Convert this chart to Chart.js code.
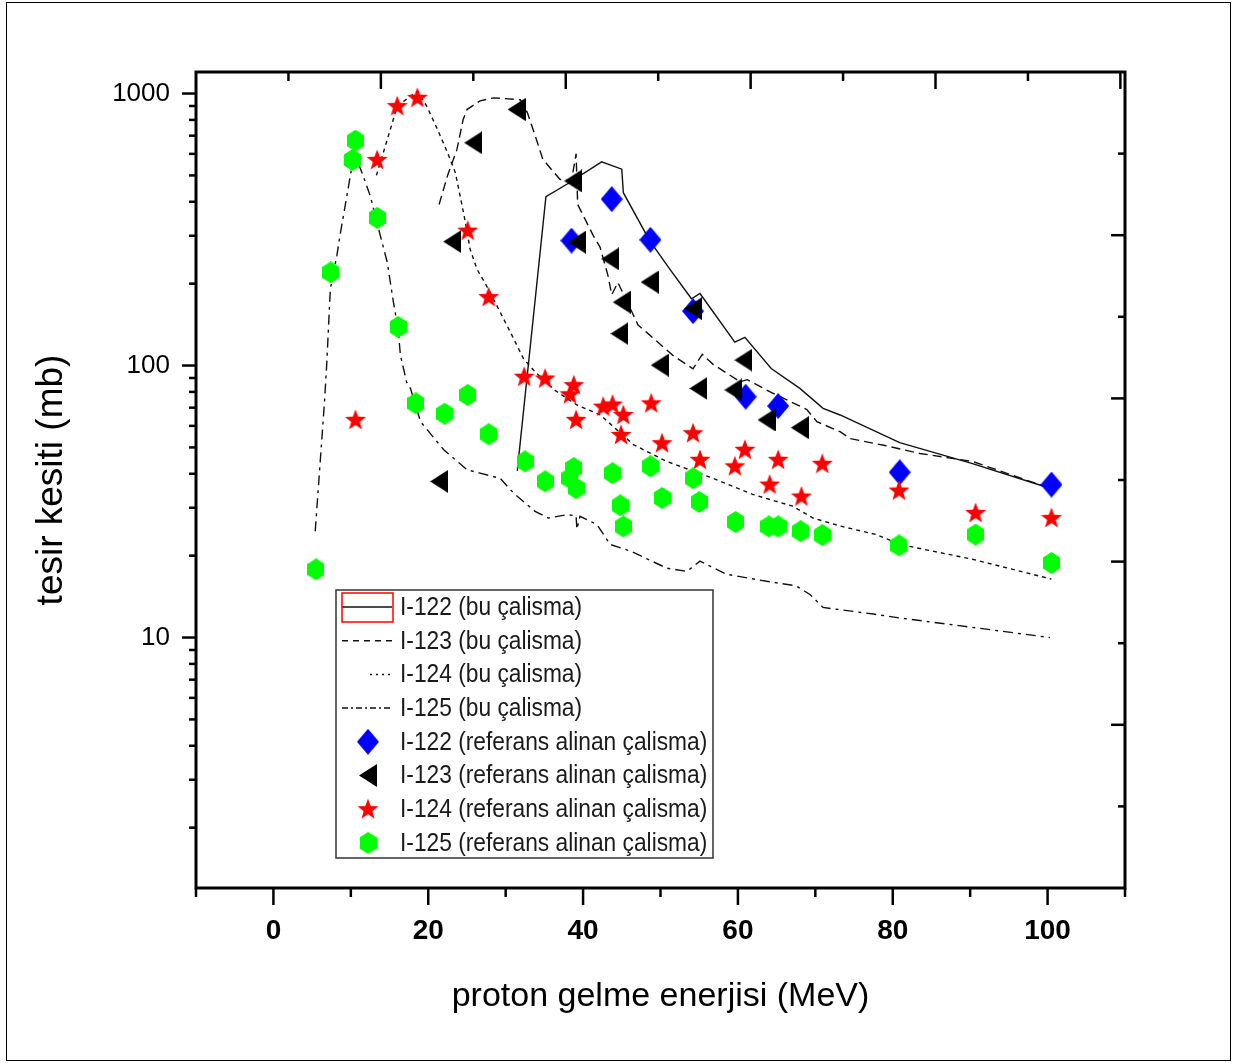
<!DOCTYPE html>
<html>
<head>
<meta charset="utf-8">
<script src="https://cdn.jsdelivr.net/npm/chart.js@4.4.1/dist/chart.umd.min.js"></script>
<style>
  html, body { margin: 0; padding: 0; background: #fff; }
  #wrap { position: relative; width: 1233px; height: 1063px; }
  #grafik { position: absolute; left: 0; top: 0; }
  #cerceve { position: absolute; left: 6px; top: 2px; width: 1225px; height: 1059px;
             border: 1px solid #000; box-sizing: border-box; pointer-events: none; }
</style>
</head>
<body>
<div id="wrap">
  <canvas id="grafik" width="1233" height="1063"></canvas>
  <div id="cerceve"></div>
</div>
<script>
// --- hesaplanan tesir kesitleri (bu çalisma), enerji MeV / kesit mb ---
const e122 = [31.5, 35.2, 37.9, 42.4, 45.0, 45.2, 48.6, 51.2, 54.0, 55.1, 59.6, 60.9, 64.3, 68.0, 71.0, 73.2, 80.9, 90.3, 100.3];
const s122 = [41, 418, 464, 561, 527, 432, 288, 226, 176, 184, 122, 127, 97.5, 82.4, 69.6, 65.8, 52.1, 43.6, 35.4];

const e123 = [21.4, 22.5, 23.7, 24.5, 25.0, 26.7, 28.4, 31.9, 32.8, 34.1, 34.8, 37.0, 38.5, 39.1, 39.3, 41.3, 42.2, 43.2, 43.7, 44.5, 47.1, 48.4, 51.6, 54.2, 55.4, 56.8, 60.3, 61.2, 64.1, 68.9, 70.2, 73.2, 74.5, 79.0, 83.5, 90.3, 100.3];
const s123 = [391, 500, 622, 801, 873, 940, 964, 949, 851, 661, 573, 484, 477, 601, 391, 301, 272, 215, 182, 202, 141, 131, 109, 97.3, 110, 101, 87.1, 88.7, 80.2, 68.9, 62.2, 57.1, 53.9, 50.8, 47.5, 44.4, 35.4];

const e124 = [13.3, 14.7, 16.0, 18.6, 19.8, 21.1, 22.4, 23.5, 24.2, 24.8, 25.4, 26.3, 27.5, 29.3, 31.0, 32.3, 33.8, 36.3, 39.2, 42.2, 46.5, 50.8, 56.8, 61.9, 67.1, 69.7, 73.2, 77.9, 80.9, 90.3, 100.5];
const s124 = [500, 676, 899, 1021, 899, 748, 615, 512, 409, 336, 268, 226, 197, 157, 126, 106, 94.8, 81.3, 71.6, 65.9, 51.2, 44.4, 38.5, 33.6, 30.4, 27.5, 25.7, 23.9, 22.0, 19.4, 16.4];

const e125 = [5.4, 6.6, 6.9, 7.35, 8.2, 8.6, 9.5, 10.0, 10.5, 11.6, 12.5, 13.8, 14.7, 15.5, 16.1, 16.4, 17.2, 17.7, 19.0, 22.0, 25.0, 26.7, 29.3, 31.0, 33.8, 35.5, 38.0, 39.1, 39.2, 39.6, 41.8, 43.5, 46.1, 50.8, 53.4, 55.1, 58.5, 63.7, 67.5, 69.3, 71.0, 77.5, 80.9, 90.3, 100.3];
const s125 = [24.6, 73.6, 103, 191, 254, 301, 422, 512, 600, 498, 421, 301, 240, 171, 137, 109.5, 87, 82.4, 62.2, 49, 41.4, 40.2, 38.5, 34.0, 29.1, 27.5, 28.3, 28.0, 25.0, 27.9, 26.0, 22.0, 20.8, 18.0, 17.5, 19.1, 17.1, 16.1, 15.5, 14.4, 12.9, 12.2, 11.8, 10.9, 10.0];

// --- referans alinan çalisma ölçümleri ---
const r122E = [38.5, 43.7, 48.7, 54.2, 61.0, 65.2, 80.9, 100.5];
const r122S = [288, 409, 290, 158.5, 76.8, 71.0, 40.5, 36.5];

const r123E = [21.4, 23.1, 25.8, 31.4, 38.7, 39.2, 43.5, 48.6, 45.0, 44.7, 54.2, 49.9, 60.7, 54.9, 59.4, 63.7, 68.0];
const r123S = [37.5, 285.6, 659, 874, 477, 284, 246.6, 202.7, 171, 131, 161.8, 100.3, 104.7, 82.4, 81.3, 63.1, 59.1];

const r124E = [10.6, 13.4, 16.0, 18.6, 25.1, 27.8, 32.4, 35.1, 38.8, 38.3, 39.1, 42.6, 43.8, 45.2, 44.9, 48.8, 50.2, 54.2, 55.1, 59.6, 60.9, 64.1, 65.2, 68.2, 70.9, 80.8, 90.7, 100.5];
const r124S = [63.1, 570, 899, 964, 313, 178.5, 90.9, 89.6, 84.7, 78.4, 63.1, 70.6, 71.9, 65.8, 55.6, 72.6, 51.8, 56.4, 45.0, 42.6, 49.0, 36.5, 45.0, 33.0, 43.5, 34.7, 28.7, 27.5];

const r125E = [5.5, 7.4, 10.2, 10.6, 13.4, 16.1, 18.4, 22.1, 25.1, 27.8, 32.5, 35.1, 38.8, 38.3, 39.1, 43.8, 44.8, 45.2, 48.7, 50.2, 54.2, 55.0, 59.7, 64.0, 65.2, 68.1, 70.9, 80.8, 90.7, 100.5];
const r125S = [17.8, 220, 570, 671, 349, 138.6, 72.6, 66.5, 77.9, 55.9, 44.4, 37.5, 42.0, 38.5, 35.4, 40.2, 30.6, 25.6, 42.6, 32.6, 38.5, 31.5, 26.6, 25.6, 25.6, 24.6, 23.8, 21.8, 23.9, 18.8];

// eksen etiketleri
const xEtiket = [0, 20, 40, 60, 80, 100];
const xAra = [-10, 10, 30, 50, 70, 90, 110];
const yEtiket = [10, 100, 1000];
const yAra = [2, 3, 4, 5, 6, 7, 8, 9, 20, 30, 40, 50, 60, 70, 80, 90, 200, 300, 400, 500, 600, 700, 800, 900];
// üst ve sağ çerçeve çentikleri (ayrı ölçek)
const ustCentik = [1, 2, 3, 4, 5, 6, 7, 8, 9, 10];
const sagCentik = [1, 2, 3, 4, 5, 6, 7, 8, 9];

const cift = (e, s) => e.map((v, i) => ({ x: v, y: s[i] }));

// işaretler: küçük canvas resimleri
function isaret(w, h, ciz) {
  const c = document.createElement('canvas');
  c.width = w; c.height = h;
  const g = c.getContext('2d');
  ciz(g, w, h);
  return c;
}
const elmas = isaret(22, 26, (g, w, h) => {
  g.fillStyle = '#0000ff';
  g.beginPath(); g.moveTo(w / 2, 0); g.lineTo(w, h / 2); g.lineTo(w / 2, h); g.lineTo(0, h / 2); g.closePath(); g.fill();
});
const ucgen = isaret(18, 23, (g, w, h) => {
  g.fillStyle = '#000';
  g.beginPath(); g.moveTo(0, h / 2); g.lineTo(w, 0); g.lineTo(w, h); g.closePath(); g.fill();
});
const yildiz = isaret(22, 22, (g, w, h) => {
  g.fillStyle = '#ff0000';
  g.beginPath();
  for (let i = 0; i < 10; i++) {
    const r = i % 2 ? 4.6 : 11;
    const a = -Math.PI / 2 + i * Math.PI / 5;
    const px = w / 2 + r * Math.cos(a), py = h / 2 + 0.5 + r * Math.sin(a);
    i ? g.lineTo(px, py) : g.moveTo(px, py);
  }
  g.closePath(); g.fill();
});
const altigen = isaret(17, 22, (g, w, h) => {
  g.fillStyle = '#00ff00';
  g.beginPath();
  g.moveTo(w / 2, 0); g.lineTo(w, h * 0.25); g.lineTo(w, h * 0.75);
  g.lineTo(w / 2, h); g.lineTo(0, h * 0.75); g.lineTo(0, h * 0.25);
  g.closePath(); g.fill();
});

const egri = (label, e, s, dash) => ({
  type: 'line', label, data: cift(e, s), borderColor: '#111', borderWidth: 1.4,
  borderDash: dash, pointRadius: 0, fill: false, tension: 0, order: 10
});
const nokta = (label, e, s, img, order) => ({
  type: 'scatter', label, data: cift(e, s), pointStyle: img, pointRadius: 10, order
});

const veriler = [
  egri('I-122 (bu çalisma)', e122, s122, []),
  egri('I-123 (bu çalisma)', e123, s123, [9, 5]),
  egri('I-124 (bu çalisma)', e124, s124, [4, 4]),
  egri('I-125 (bu çalisma)', e125, s125, [10, 5, 3, 5]),
  nokta('I-122 (referans alinan çalisma)', r122E, r122S, elmas, 4),
  nokta('I-123 (referans alinan çalisma)', r123E, r123S, ucgen, 3),
  nokta('I-124 (referans alinan çalisma)', r124E, r124S, yildiz, 2),
  nokta('I-125 (referans alinan çalisma)', r125E, r125S, altigen, 1)
];

// lejant çizgi örnekleri: [başlangıç x, kesik deseni]
const lejantCizgi = [[342, []], [342, [6, 5]], [370, [2, 4]], [342, [6, 3, 2, 3]]];

const cerceve = {
  id: 'cerceve',
  afterDatasetsDraw(chart) {
    const { ctx, chartArea: a, scales } = chart;
    ctx.save();
    ctx.strokeStyle = '#000';
    ctx.lineWidth = 3;
    ctx.strokeRect(a.left, a.top, a.right - a.left, a.bottom - a.top);
    ctx.lineWidth = 2.5;
    const cizgi = (x1, y1, x2, y2) => { ctx.beginPath(); ctx.moveTo(x1, y1); ctx.lineTo(x2, y2); ctx.stroke(); };
    xEtiket.forEach(v => { const p = scales.x.getPixelForValue(v); cizgi(p, a.bottom, p, a.bottom + 17); });
    xAra.forEach(v => { const p = scales.x.getPixelForValue(v); cizgi(p, a.bottom, p, a.bottom + 9); });
    yEtiket.forEach(v => { const p = scales.y.getPixelForValue(v); cizgi(a.left - 14, p, a.left, p); });
    yAra.forEach(v => { const p = scales.y.getPixelForValue(v); cizgi(a.left - 7, p, a.left, p); });
    ustCentik.forEach(v => { const p = scales.x2.getPixelForValue(v); cizgi(p, a.top, p, a.top + (v % 2 ? 9 : 17)); });
    sagCentik.forEach(v => { const p = scales.y2.getPixelForValue(v); cizgi(a.right, p, a.right - (v % 2 ? 7 : 14), p); });
    ctx.restore();
  }
};

const lejant = {
  id: 'lejant',
  afterDraw(chart) {
    const ctx = chart.ctx;
    const x0 = 336, y0 = 590, w = 377, h = 268;
    ctx.save();
    ctx.fillStyle = '#fff';
    ctx.fillRect(x0, y0, w, h);
    ctx.strokeStyle = '#333';
    ctx.lineWidth = 1.5;
    ctx.strokeRect(x0, y0, w, h);
    chart.data.datasets.forEach((ds, i) => {
      const y = 607 + i * 33.7;
      if (ds.type === 'line') {
        const [bas, desen] = lejantCizgi[i];
        ctx.strokeStyle = '#111';
        ctx.lineWidth = 1.5;
        ctx.setLineDash(desen);
        ctx.beginPath(); ctx.moveTo(bas, y); ctx.lineTo(392, y); ctx.stroke();
        ctx.setLineDash([]);
        if (i === 0) {
          ctx.strokeStyle = '#ff0000';
          ctx.strokeRect(342, 593, 51, 29);
        }
      } else {
        const img = ds.pointStyle;
        ctx.drawImage(img, 368 - img.width / 2, y - img.height / 2);
      }
      ctx.save();
      ctx.translate(400, y);
      ctx.scale(0.91, 1);
      ctx.fillStyle = '#1a1a1a';
      ctx.font = '25px "Liberation Sans", Arial, sans-serif';
      ctx.textBaseline = 'middle';
      ctx.fillText(ds.label, 0, 1);
      ctx.restore();
    });
    ctx.restore();
  }
};

const bosIzgara = { drawOnChartArea: false, drawTicks: true, tickColor: 'rgba(0,0,0,0)' };

new Chart(document.getElementById('grafik').getContext('2d'), {
  data: { datasets: veriler },
  options: {
    responsive: false,
    animation: false,
    events: [],
    layout: { padding: { top: 72, right: 108, left: 0, bottom: 0 } },
    plugins: { legend: { display: false }, tooltip: { enabled: false } },
    scales: {
      x: {
        type: 'linear', position: 'bottom', min: -10, max: 110,
        afterFit: s => { s.height = 175; },
        afterBuildTicks: s => { s.ticks = xEtiket.map(v => ({ value: v })); },
        grid: { ...bosIzgara, tickLength: 17 },
        border: { display: false },
        ticks: {
          color: '#000', padding: 9, autoSkip: false, maxRotation: 0,
          font: { family: '"Liberation Sans Narrow", "Liberation Sans", Arial, sans-serif', size: 28, weight: 'bold' },
          callback: v => String(v)
        },
        title: {
          display: true, text: 'proton gelme enerjisi (MeV)', color: '#000',
          font: { family: '"Liberation Sans", Arial, sans-serif', size: 34 },
          padding: { top: 0, bottom: 46 }
        }
      },
      y: {
        type: 'logarithmic', position: 'left', min: 1.2, max: 1200,
        afterFit: s => { s.width = 196; },
        afterBuildTicks: s => { s.ticks = yEtiket.map(v => ({ value: v })); },
        grid: { ...bosIzgara, tickLength: 14 },
        border: { display: false },
        ticks: {
          color: '#000', padding: 12, autoSkip: false,
          font: { family: '"Liberation Sans", Arial, sans-serif', size: 26 },
          callback: v => String(v)
        },
        title: {
          display: true, text: 'tesir kesiti (mb)', color: '#000',
          font: { family: '"Liberation Sans", Arial, sans-serif', size: 37 },
          padding: { top: 30, bottom: 0 }
        }
      },
      x2: { type: 'linear', position: 'top', display: false, min: 0, max: 10.05 },
      y2: { type: 'linear', position: 'right', display: false, min: 0, max: 10 }
    }
  },
  plugins: [cerceve, lejant]
});
</script>
</body>
</html>
